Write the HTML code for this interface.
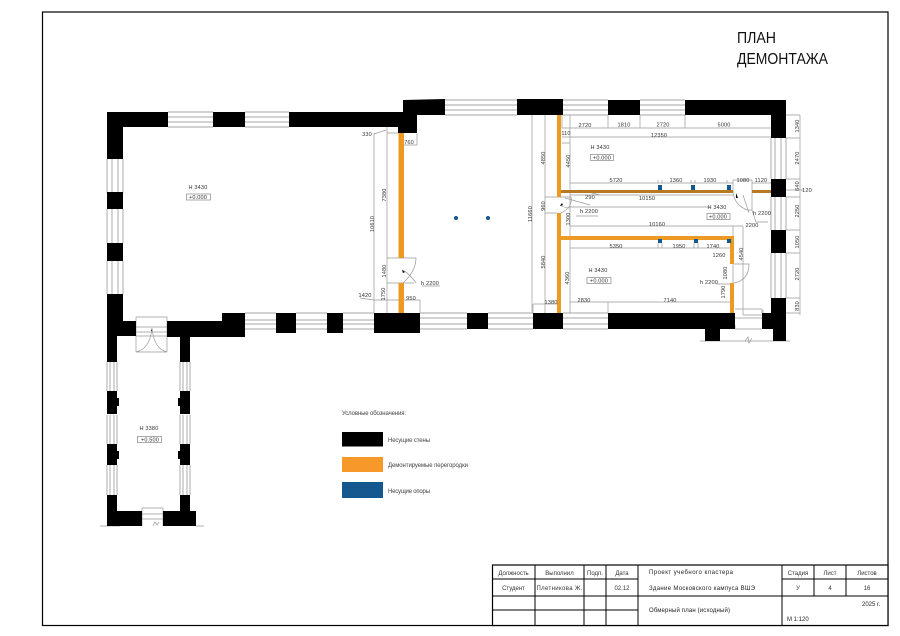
<!DOCTYPE html>
<html><head><meta charset="utf-8"><style>
html,body{margin:0;padding:0;background:#fff}
svg{display:block}
text{font-family:"Liberation Sans",sans-serif;fill:#333}
.d{font-size:5.6px;text-anchor:middle;letter-spacing:.15px}
.t{font-size:6px;fill:#222}
.c{font-size:6px;text-anchor:middle;fill:#222}
.g{stroke:#888;stroke-width:.7;fill:none}
.l{stroke:#999;stroke-width:.7;fill:none}
.k{stroke:#000;stroke-width:1;fill:none}
</style></head><body>
<svg width="900" height="636" viewBox="0 0 900 636" xmlns="http://www.w3.org/2000/svg">
<rect width="900" height="636" fill="#fff"/>
<rect x="42.5" y="12" width="845.5" height="613.5" fill="none" stroke="#000" stroke-width="1.2"/>
<text x="737" y="43" font-size="16" textLength="39" lengthAdjust="spacingAndGlyphs" style="fill:#111">ПЛАН</text>
<text x="737" y="64" font-size="16" textLength="91" lengthAdjust="spacingAndGlyphs" style="fill:#111">ДЕМОНТАЖА</text>

<!-- windows -->
<g class="g">
<path d="M168 112h45M168 117h45M168 122h45M168 127h45M245 112h44M245 117h44M245 122h44M245 127h44"/>
<path d="M445 100h72M445 105h72M445 110h72M445 115h72M563 100h45M563 105h45M563 110h45M563 115h45M640 100h45M640 105h45M640 110h45M640 115h45"/>
<path d="M107 159v34M112 159v34M118 159v34M123 159v34M107 209v34M112 209v34M118 209v34M123 209v34M107 261v33M112 261v33M118 261v33M123 261v33"/>
<path d="M245 313h31M245 320h31M245 324h31M245 329h31M296 313h31M296 320h31M296 324h31M296 329h31M343 313h31M343 320h31M343 324h31M343 329h31"/>
<path d="M420 313h47M420 318h47M420 324h47M420 329h47M488 313h45M488 318h45M488 324h45M488 329h45M563 313h45M563 318h45M563 324h45M563 329h45"/>
<path d="M771 138v41M775 138v41M781 138v41M786 138v41M771 197v33M775 197v33M781 197v33M786 197v33M771 253v45M775 253v45M781 253v45M786 253v45"/>
<path d="M107 362v29M110 362v29M114 362v29M117 362v29M107 415v29M110 415v29M114 415v29M117 415v29M107 465v30M110 465v30M114 465v30M117 465v30"/>
<path d="M180 362v29M183 362v29M187 362v29M190 362v29M180 415v29M183 415v29M187 415v29M190 415v29M180 465v30M183 465v30M187 465v30M190 465v30"/>
</g>

<!-- dimension lines -->
<g class="l">
<path d="M374 133v180M387 127v186M374 134l12-4M387 133h12M387 258h17M387 283h17M374 300h13M387 300h33M420 300v13M404 145h13M417 133v12M360 298l14 2M422 286h18"/>
<path d="M532 115v198M545 115v198M533 304h24M533 304v9M545 197h12M545 213h12M562 115v13M570 115v22M570 137v176M562 128h209M562 137h209M608 115v13M640 115v13M685 115v13M562 143h8"/>
<path d="M570 183h163M570 207h140M570 226h173M570 248h160M570 302h160M570 195h163M600 195l-20-5M576 216h22"/>
<path d="M658 183v-3M662 183v-3M691 183v-3M695 183v-3M727 183v-3M733 180v10M752 180v10M733 180h19M752 183h19M658 243v5M662 243v5M694 243v5M698 243v5M608 302v11"/>
<path d="M743 226v89M733 226v10M730 302h3M743 315h20M763 310v5M735 318h28"/>
<path d="M800 115v200M786 115h14M786 138h14M786 179h14M786 197h14M786 230h14M786 253h14M786 298h14M786 313h14M786 190h18"/>
<path d="M100 526h20M196 526h8M700 341h90"/>
</g>

<!-- doors -->
<g class="l">
<path d="M404 258h12q0 13-13 25M404 283h10M402 270q6 2 14 13"/>
<path d="M557 197h14q2 10-10 16M565 198l25 7M560 205q5 3 10 3"/>
<path d="M733 190q0 14 14 20h5v-20M752 210l4 12h12M743 195l6 18"/>
<path d="M734 264h15q0 16-15 19M733 264v19M716 284h14"/>
<path d="M136 317h31v35M136 317v35M136 327h31M136 332h31M136 336h31M136 352q14-3 16-24q2 21 15 24M136 352h31"/>
<path d="M142 508h21v18M142 508v18M142 514h21M142 519h21M153 526l2-4 2 3 2-3"/>
<path d="M735 329h27M735 325v4M735 309h27v4M745 341l3-4 1 6 3-5"/>
</g>
<path d="M151 329l.8 2-.8 0zM736 193l2 5-2 0zM402 270l3 2-2 1zM560 206l3-1-1-2z" fill="#000"/>

<!-- orange partitions -->
<g fill="#ec9a24">
<rect x="398.5" y="133" width="5.5" height="125"/><rect x="398.5" y="283" width="5.5" height="30"/>
<rect x="557" y="115" width="4" height="82"/><rect x="557" y="213" width="4" height="100"/>
<rect x="561" y="236" width="173" height="4"/><rect x="730" y="236" width="4" height="28"/><rect x="730" y="283" width="4" height="30"/>
</g>
<g fill="#b67a22"><rect x="561" y="190" width="172" height="3"/><rect x="752" y="190" width="19" height="3"/></g>

<!-- columns -->
<g fill="#15588f">
<rect x="658" y="185" width="4" height="5"/><rect x="691" y="185" width="4" height="5"/><rect x="727" y="185" width="4" height="5"/>
<rect x="658" y="239" width="4" height="4"/><rect x="694" y="239" width="4" height="4"/><rect x="727" y="239" width="4" height="4"/>
<circle cx="456" cy="218" r="2"/><circle cx="488" cy="218" r="2"/>
</g>

<!-- bearing walls -->
<g fill="#000">
<path d="M107 112H168V127H123V159H107Z"/>
<rect x="213" y="112" width="32" height="15"/>
<path d="M289 112H403V100L445 99V115H417V133H398V127H289Z"/>
<rect x="107" y="192" width="16" height="17"/><rect x="107" y="243" width="16" height="18"/>
<path d="M107 294H123V321H136V336H117V362H107Z"/>
<path d="M167 321H222V313H245V337H190V362H180V337H167Z"/>
<rect x="276" y="313" width="20" height="20"/><rect x="327" y="313" width="16" height="20"/>
<rect x="374" y="313" width="46" height="20"/><rect x="467" y="313" width="21" height="16"/><rect x="533" y="313" width="30" height="16"/>
<path d="M608 313H735V329H720V341H705V329H608Z"/>
<rect x="517" y="99" width="46" height="16"/><rect x="608" y="100" width="32" height="15"/>
<path d="M685 100H786V138H771V115H685Z"/>
<rect x="771" y="179" width="15" height="18"/><rect x="771" y="230" width="15" height="23"/>
<path d="M771 298H786V341H773V329H762V313H771Z"/>
<path d="M107 391H117V398H119V406H117V414H107Z"/><path d="M107 444H117V451H119V459H117V465H107Z"/>
<path d="M180 391H190V414H180V406H178V398H180Z"/><path d="M180 444H190V465H180V459H178V451H180Z"/>
<path d="M107 495H117V511H142V526H107Z"/><path d="M180 495H190V511H196V526H163V511H180Z"/>
</g>

<!-- room labels -->
<g class="l" style="stroke:#888">
<rect x="186.500" y="194" width="24" height="6"/><rect x="590.500" y="154.500" width="23" height="6"/><rect x="587" y="277.500" width="24" height="6"/><rect x="707" y="213.500" width="23" height="6"/><rect x="137.500" y="436.500" width="24" height="6"/>
</g>
<g class="d">
<text x="198" y="189">H 3430</text><text x="198" y="199">+0.000</text>
<text x="600" y="149">H 3430</text><text x="602" y="159.500">+0.000</text>
<text x="598" y="272">H 3430</text><text x="599" y="282.500">+0.000</text>
<text x="717" y="209">H 3430</text><text x="718" y="218.500">+0.000</text>
<text x="149" y="430">H 3380</text><text x="150" y="441.500">+0.500</text>

<text x="367" y="136">330</text><text x="409" y="144">760</text><text x="365" y="297">1420</text><text x="411" y="300">950</text><text x="430" y="285">h 2200</text>
<text x="585" y="127">2720</text><text x="624" y="126.500">1810</text><text x="663" y="126.500">2720</text><text x="724" y="126.500">5000</text><text x="659" y="137">12350</text>
<text x="566" y="135">110</text><text x="590" y="199">290</text><text x="589" y="213">h 2200</text>
<text x="616" y="182">5720</text><text x="676" y="182">1360</text><text x="710" y="182">1930</text><text x="743" y="182">1080</text><text x="761" y="182">1120</text>
<text x="647" y="200">10150</text><text x="657" y="226">10160</text><text x="752" y="227">2200</text><text x="762" y="215">h 2200</text>
<text x="616" y="248">5350</text><text x="679" y="248">1950</text><text x="713" y="248">1740</text><text x="719" y="257">1260</text>
<text x="709" y="284">h 2200</text><text x="670" y="302">7140</text><text x="584" y="302">2830</text><text x="551" y="304">1380</text><text x="807" y="192">120</text>
</g>
<g class="d">
<text transform="translate(374,224) rotate(-90)">10610</text>
<text transform="translate(386,195) rotate(-90)">7380</text>
<text transform="translate(386,271) rotate(-90)">1480</text>
<text transform="translate(385,294) rotate(-90)">1750</text>
<text transform="translate(532,214) rotate(-90)">11660</text>
<text transform="translate(545,158) rotate(-90)">4850</text>
<text transform="translate(545,206) rotate(-90)">960</text>
<text transform="translate(545,262) rotate(-90)">5840</text>
<text transform="translate(570,161) rotate(-90)">4450</text>
<text transform="translate(570,219) rotate(-90)">1300</text>
<text transform="translate(569,278) rotate(-90)">4360</text>
<text transform="translate(743,254) rotate(-90)">4540</text>
<text transform="translate(727,273) rotate(-90)">1080</text>
<text transform="translate(725,292) rotate(-90)">1790</text>
<text transform="translate(799,126) rotate(-90)">1340</text>
<text transform="translate(799,158) rotate(-90)">2470</text>
<text transform="translate(799,186) rotate(-90)">640</text>
<text transform="translate(799,211) rotate(-90)">2250</text>
<text transform="translate(799,242) rotate(-90)">1050</text>
<text transform="translate(799,274) rotate(-90)">2720</text>
<text transform="translate(799,306) rotate(-90)">830</text>
</g>

<!-- legend -->
<text x="342" y="415" font-size="6" textLength="64" style="fill:#444">Условные обозначения:</text>
<rect x="342" y="432" width="41" height="14.500" fill="#000"/>
<rect x="342" y="457" width="41" height="15" fill="#f7982a"/>
<rect x="342" y="482" width="41" height="16" fill="#15588f"/>
<text x="388" y="442" font-size="6" textLength="42" style="fill:#444">Несущие стены</text>
<text x="388" y="467" font-size="6" textLength="80" style="fill:#444">Демонтируемые перегородки</text>
<text x="388" y="493" font-size="6" textLength="42" style="fill:#444">Несущие опоры</text>

<!-- title block -->
<rect x="492.500" y="565" width="395.500" height="60.500" fill="#fff" stroke="#000" stroke-width="1.200"/>
<path class="k" d="M535 565v60M584 565v60M606 565v60M638 565v60M782 565v60M814 565v31M846 565v31M492 579h146M782 579h106M492 596h396M492 610h146"/>
<g class="c">
<text x="513.500" y="575">Должность</text><text x="559.500" y="575">Выполнил</text><text x="595" y="575">Подп.</text><text x="622" y="575">Дата</text>
<text x="798" y="575">Стадия</text><text x="830" y="575">Лист</text><text x="867" y="575">Листов</text>
<text x="513.500" y="590">Студент</text><text x="559.500" y="590" textLength="46">Плетникова Ж.</text><text x="622" y="590">02.12</text>
<text x="798" y="590">У</text><text x="830" y="590">4</text><text x="867" y="590">16</text>
</g>
<text class="t" x="649" y="574" textLength="84">Проект учебного кластера</text>
<text class="t" x="649" y="590" textLength="106">Здание Московского кампуса ВШЭ</text>
<text class="t" x="649" y="612" textLength="81">Обмерный план (исходный)</text>
<text class="t" x="862" y="606">2025 г.</text>
<text class="t" x="787" y="621">М 1:120</text>
</svg>
</body></html>
